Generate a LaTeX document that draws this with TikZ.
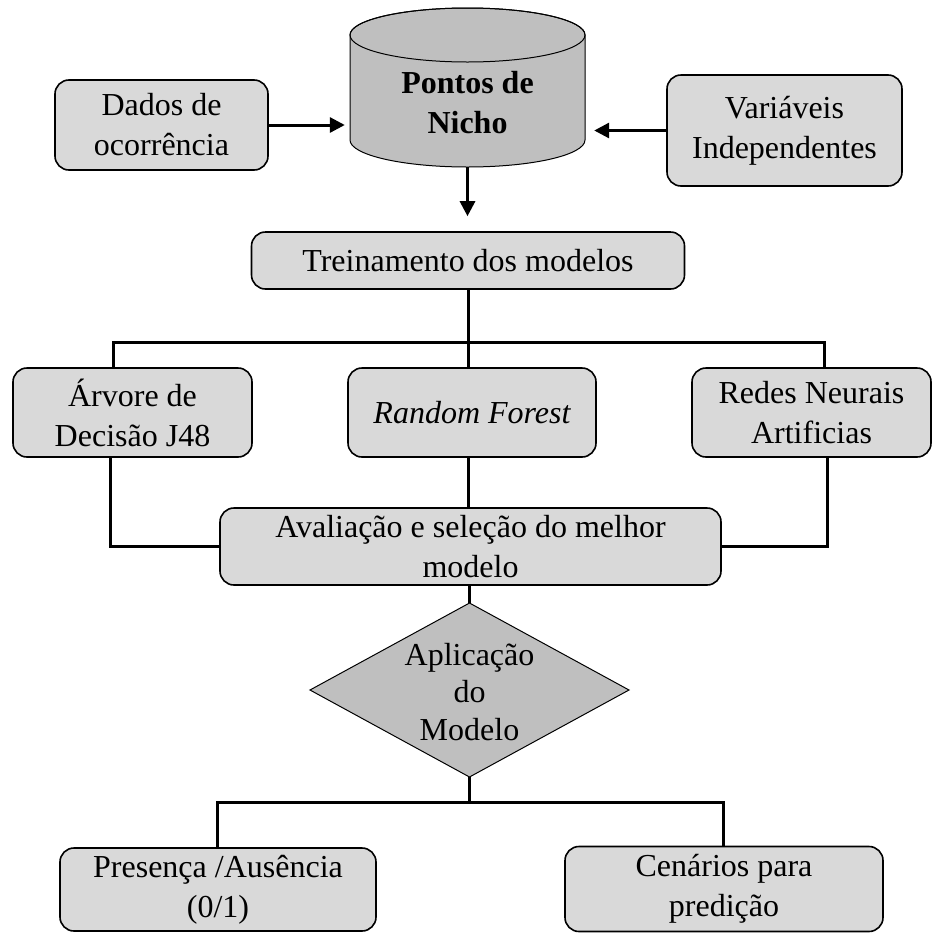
\documentclass[tikz,border=0pt]{standalone}
\usepackage{fontspec}
\setmainfont{Liberation Serif}
\usetikzlibrary{arrows.meta}

\definecolor{caixagray}{RGB}{217,217,217}
\definecolor{nichogray}{RGB}{191,191,191}

\tikzset{
  caixa/.style={draw=black, line width=1.6pt, fill=caixagray, rounded corners=14pt,
    inner sep=0pt, align=center, font=\fontsize{32}{40}\selectfont},
  liga/.style={line width=3pt},
  seta/.style={line width=3pt, -{Triangle[length=15pt,width=15pt]}},
}

\begin{document}
\begin{tikzpicture}[x=1pt,y=-1pt]
                    \useasboundingbox (0,0) rectangle (933,932);

                    % Drawing cylinder Pontos de Nicho
                    \filldraw [fill=nichogray, line width=1pt] (350,35) -- (350,140) arc (180:0:117.5 and 27) -- (585,35) arc (0:-180:117.5 and 27) -- cycle;%
                    \draw [line width=1pt] (467.5,35) ellipse (117.5 and 27);%
                    \node [minimum width=235pt, minimum height=159pt, inner sep=0pt] (nicho) at (467.5,87.5) {};%
                    \node [align=center, font=\fontsize{32}{40}\selectfont\bfseries] (nichotexto) at (467.5,103) {Pontos de\\Nicho};%

                    % Marking boxes
                    \node [caixa, minimum width=213pt, minimum height=90pt] (dados) at (161.5,125) {Dados de\\ocorrência};%
                    \node [caixa, minimum width=235pt, minimum height=111pt] (variaveis) at (784.5,130.5) {Variáveis\\Independentes};%
                    \node [caixa, minimum width=433pt, minimum height=57pt] (treino) at (468,260.5) {Treinamento dos modelos};%
                    \node [caixa, minimum width=239pt, minimum height=89pt] (arvore) at (132.5,412.5) {Árvore de\\Decisão J48};%
                    \node [caixa, minimum width=248pt, minimum height=89pt] (forest) at (472,412.5) {\itshape Random Forest};%
                    \node [caixa, minimum width=239pt, minimum height=89pt] (redes) at (811.5,412.5) {Redes Neurais\\Artificias};%
                    \node [caixa, minimum width=501pt, minimum height=77pt] (avalia) at (470.5,546.5) {Avaliação e seleção do melhor\\modelo};%

                    % Drawing diamond Aplicacao do Modelo
                    \coordinate (aplcima) at (469.5,603);%
                    \coordinate (apldir) at (629,690);%
                    \coordinate (aplbaixo) at (469.5,777);%
                    \coordinate (aplesq) at (310,690);%
                    \filldraw [fill=nichogray, line width=1pt] (aplcima) -- (apldir) -- (aplbaixo) -- (aplesq) -- cycle;%
                    \node [align=center, font=\fontsize{32}{37.5}\selectfont] (aplica) at (469.5,692) {Aplicação\\do\\Modelo};%

                    \node [caixa, minimum width=316pt, minimum height=83pt] (presenca) at (218,889.5) {Presença /Ausência\\(0/1)};%
                    \node [caixa, minimum width=318pt, minimum height=85pt] (cenarios) at (724,889) {Cenários para\\predição};%

                    % Drawing arrows into Pontos de Nicho
                    \draw [seta, shorten >=5pt] (dados.east) -- (dados.east -| nicho.west);%
                    \draw [seta, shorten >=9pt] (variaveis.west) -- (variaveis.west -| nicho.east);%
                    \draw [seta, shorten >=15pt] (nicho.south) -- (nicho.south |- treino.north);%

                    % Drawing line treino to modelos
                    \coordinate (ramoE) at (113,342);%
                    \coordinate (ramoD) at (824,342);%
                    \draw [liga] (treino.south) -- (treino.south |- forest.north);%
                    \draw [liga] (ramoE |- arvore.north) -- (ramoE) -- (ramoD) -- (ramoD |- redes.north);%

                    % Drawing line modelos to avaliacao
                    \coordinate (baixoE) at (110,546.5);%
                    \coordinate (baixoD) at (827,546.5);%
                    \draw [liga] (baixoE |- arvore.south) -- (baixoE) -- (avalia.west);%
                    \draw [liga] (baixoD |- redes.south) -- (baixoD) -- (avalia.east);%
                    \draw [liga] (treino.south |- forest.south) -- (treino.south |- avalia.north);%

                    % Drawing line avaliacao to aplicacao
                    \draw [liga] (aplcima |- avalia.south) -- (aplcima);%

                    % Drawing line aplicacao to resultados
                    \coordinate (ramoBE) at (217,802);%
                    \coordinate (ramoBD) at (723,802);%
                    \draw [liga] (aplbaixo) -- (aplbaixo |- ramoBE);%
                    \draw [liga] (ramoBE |- presenca.north) -- (ramoBE) -- (ramoBD) -- (ramoBD |- cenarios.north);%
\end{tikzpicture}
\end{document}
